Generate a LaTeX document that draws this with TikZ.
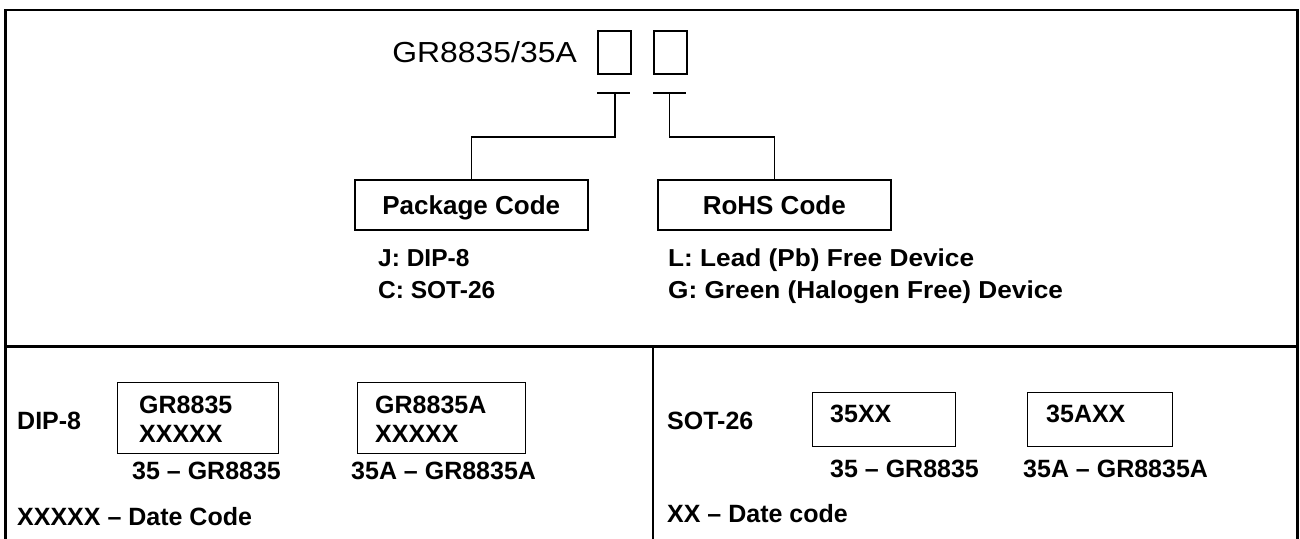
\documentclass[tikz,border=0pt]{standalone}
\usepackage{fontspec}
\setmainfont{Liberation Sans}
\begin{document}
\begin{tikzpicture}[x=1pt,y=-1pt,
  frame/.style={line width=2.5pt},
  cell/.style={draw,line width=1.5pt,minimum width=33pt,minimum height=43pt,inner sep=0pt,anchor=north west},
  codebox/.style={draw,line width=1.5pt,minimum width=233pt,minimum height=50pt,inner sep=0pt,text height=19pt,text depth=0pt,anchor=north west,font=\fontsize{26}{30}\selectfont\bfseries},
  link/.style={line width=1.5pt},
  listtxt/.style={anchor=base west,inner sep=0pt,font=\fontsize{24.5}{28}\selectfont\bfseries},
  markbox/.style={draw,line width=1.4pt,inner sep=0pt,anchor=north west},
  bt/.style={anchor=base west,inner sep=0pt,font=\fontsize{25}{29}\selectfont\bfseries},
]
\useasboundingbox (0,0) rectangle (1300,538);
% frame
\draw[frame] (5.5,545) -- (5.5,10) -- (1297.5,10) -- (1297.5,545);
\draw[frame] (5.5,346.7) -- (1297.5,346.7);
\draw[frame] (653,346.7) -- (653,545);

% part number
\node[anchor=base east,inner sep=0pt,font=\fontsize{29}{32}\selectfont] (pn) at (577,62) {\scalebox{1.1}[1]{GR8835/35A}};
\node[cell] (c1) at (597,30) {};
\node[cell] (c2) at (653,30) {};

% T bars and connectors
\coordinate (t1l) at (597,93);
\coordinate (t1r) at (630,93);
\coordinate (t1) at (615,93);
\coordinate (t2l) at (653,93);
\coordinate (t2r) at (686,93);
\coordinate (t2) at (669.5,93);
\draw[link] (t1l) -- (t1r);
\draw[link] (t2l) -- (t2r);

\node[codebox] (pkg) at (354,179) {Package Code};
\node[codebox] (rohs) at (657,179) {RoHS Code};

\draw[link] (t1) -- ++(0,44) -| (pkg.north);
\draw[link] (t2) -- ++(0,44) -| (rohs.north);

\node[listtxt] (j) at (378,266) {J: DIP-8};
\node[listtxt] (c) at (378,298) {C: SOT-26};
\node[listtxt] (l) at (668,266) {\scalebox{1.07}[1]{L: Lead (Pb) Free Device}};
\node[listtxt] (g) at (668,298) {\scalebox{1.07}[1]{G: Green (Halogen Free) Device}};

% DIP-8 section
\node[bt] (dip) at (17,429) {DIP-8};
\node[markbox,minimum width=161pt,minimum height=71pt] (m1) at (117,382) {};
\node[bt] (m1a) at (139,413) {GR8835};
\node[bt] (m1b) at (139,442) {XXXXX};
\node[markbox,minimum width=168pt,minimum height=71pt] (m2) at (357,382) {};
\node[bt] (m2a) at (375,413) {GR8835A};
\node[bt] (m2b) at (375,442) {XXXXX};
\node[bt] (d1) at (132,479) {35 – GR8835};
\node[bt] (d2) at (351,479) {35A – GR8835A};
\node[bt] (dc1) at (17,525) {XXXXX – Date Code};

% SOT-26 section
\node[bt] (sot) at (667,429) {SOT-26};
\node[markbox,minimum width=143pt,minimum height=54pt] (m3) at (812,392) {};
\node[bt] (m3a) at (830,422) {35XX};
\node[markbox,minimum width=145pt,minimum height=54pt] (m4) at (1027,392) {};
\node[bt] (m4a) at (1046,422) {35AXX};
\node[bt] (s1) at (830,477) {35 – GR8835};
\node[bt] (s2) at (1023,477) {35A – GR8835A};
\node[bt] (dc2) at (667,522) {XX – Date code};
\end{tikzpicture}
\end{document}
